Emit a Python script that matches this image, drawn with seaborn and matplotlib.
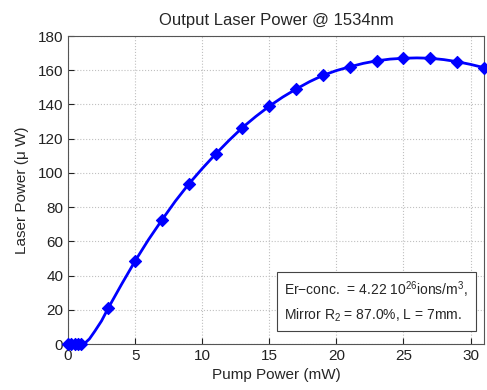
import matplotlib
matplotlib.use("Agg")
import matplotlib.pyplot as plt
import numpy as np
import pandas as pd
import seaborn as sns

# marker points
pump_mw = [0, 0.25, 0.5, 0.75, 1, 3, 5, 7, 9, 11, 13, 15, 17, 19, 21, 23, 25, 27, 29, 31]
laser_uw = [0, 0, 0, 0, 0, 21, 48.5, 72.5, 93.5, 111, 126.5, 139, 149, 157, 162,
            165.5, 167, 167, 165, 161.5]

# extra points along the smooth curve near threshold
curve_x = [0, 1, 1.3, 1.6, 2, 2.5, 3, 4, 5, 6, 7, 8, 9, 10, 11, 12, 13, 14, 15, 16, 17,
           18, 19, 20, 21, 22, 23, 24, 25, 26, 27, 28, 29, 30, 31]
curve_y = [0, 0, 0.8, 3, 7.5, 13.5, 21, 35, 48.5, 61, 72.5, 83.5, 93.5, 102.5, 111,
           119, 126.5, 133, 139, 144.3, 149, 153.3, 157, 159.8, 162, 164, 165.5, 166.5,
           167, 167.2, 167, 166.2, 165, 163.4, 161.5]

sns.set_style("ticks")
plt.rcParams["font.family"] = ["Liberation Sans", "DejaVu Sans"]
plt.rcParams["mathtext.fontset"] = "custom"
plt.rcParams["mathtext.rm"] = "Liberation Sans"
plt.rcParams["mathtext.it"] = "Liberation Sans"

fig = plt.figure(figsize=(4.87, 3.90), dpi=100)
ax = fig.add_axes([68 / 487, 1 - 344 / 390, (484 - 68) / 487, (344 - 36) / 390])

curve = pd.DataFrame({"x": curve_x, "y": curve_y})
points = pd.DataFrame({"x": pump_mw, "y": laser_uw})
sns.lineplot(data=curve, x="x", y="y", ax=ax, color="#0000ff", linewidth=2, sort=False)
sns.scatterplot(data=points, x="x", y="y", ax=ax, color="#0000ff", marker="D",
                s=38, edgecolor="#0000ff", linewidth=0.8, zorder=3, clip_on=False)

ax.set_xlim(0, 31)
ax.set_ylim(0, 180)
ax.set_xticks(range(0, 31, 5))
ax.set_yticks(range(0, 181, 20))
ax.tick_params(direction="in", labelsize=11, length=4, colors="#222222")
ax.grid(True, linestyle=":", color="#c0c0c0", linewidth=0.8)
for spine in ax.spines.values():
    spine.set_visible(True)
    spine.set_color("#555555")
    spine.set_linewidth(0.8)

ax.set_title("Output Laser Power @ 1534nm", fontsize=12, pad=8)
ax.set_xlabel("Pump Power (mW)", fontsize=11, labelpad=4)
ax.set_ylabel("Laser Power (\u03bc W)", fontsize=11, labelpad=6)

ax.text(0.52, 0.137,
        "Er\u2212conc.  = 4.22 10$^{26}$ions/m$^3$,\nMirror R$_2$ = 87.0%, L = 7mm.",
        transform=ax.transAxes, fontsize=10, va="center", ha="left",
        linespacing=1.45,
        bbox=dict(boxstyle="square,pad=0.55", facecolor="white", edgecolor="#444444",
                  linewidth=0.8))

fig.savefig("out.png", dpi=100)
